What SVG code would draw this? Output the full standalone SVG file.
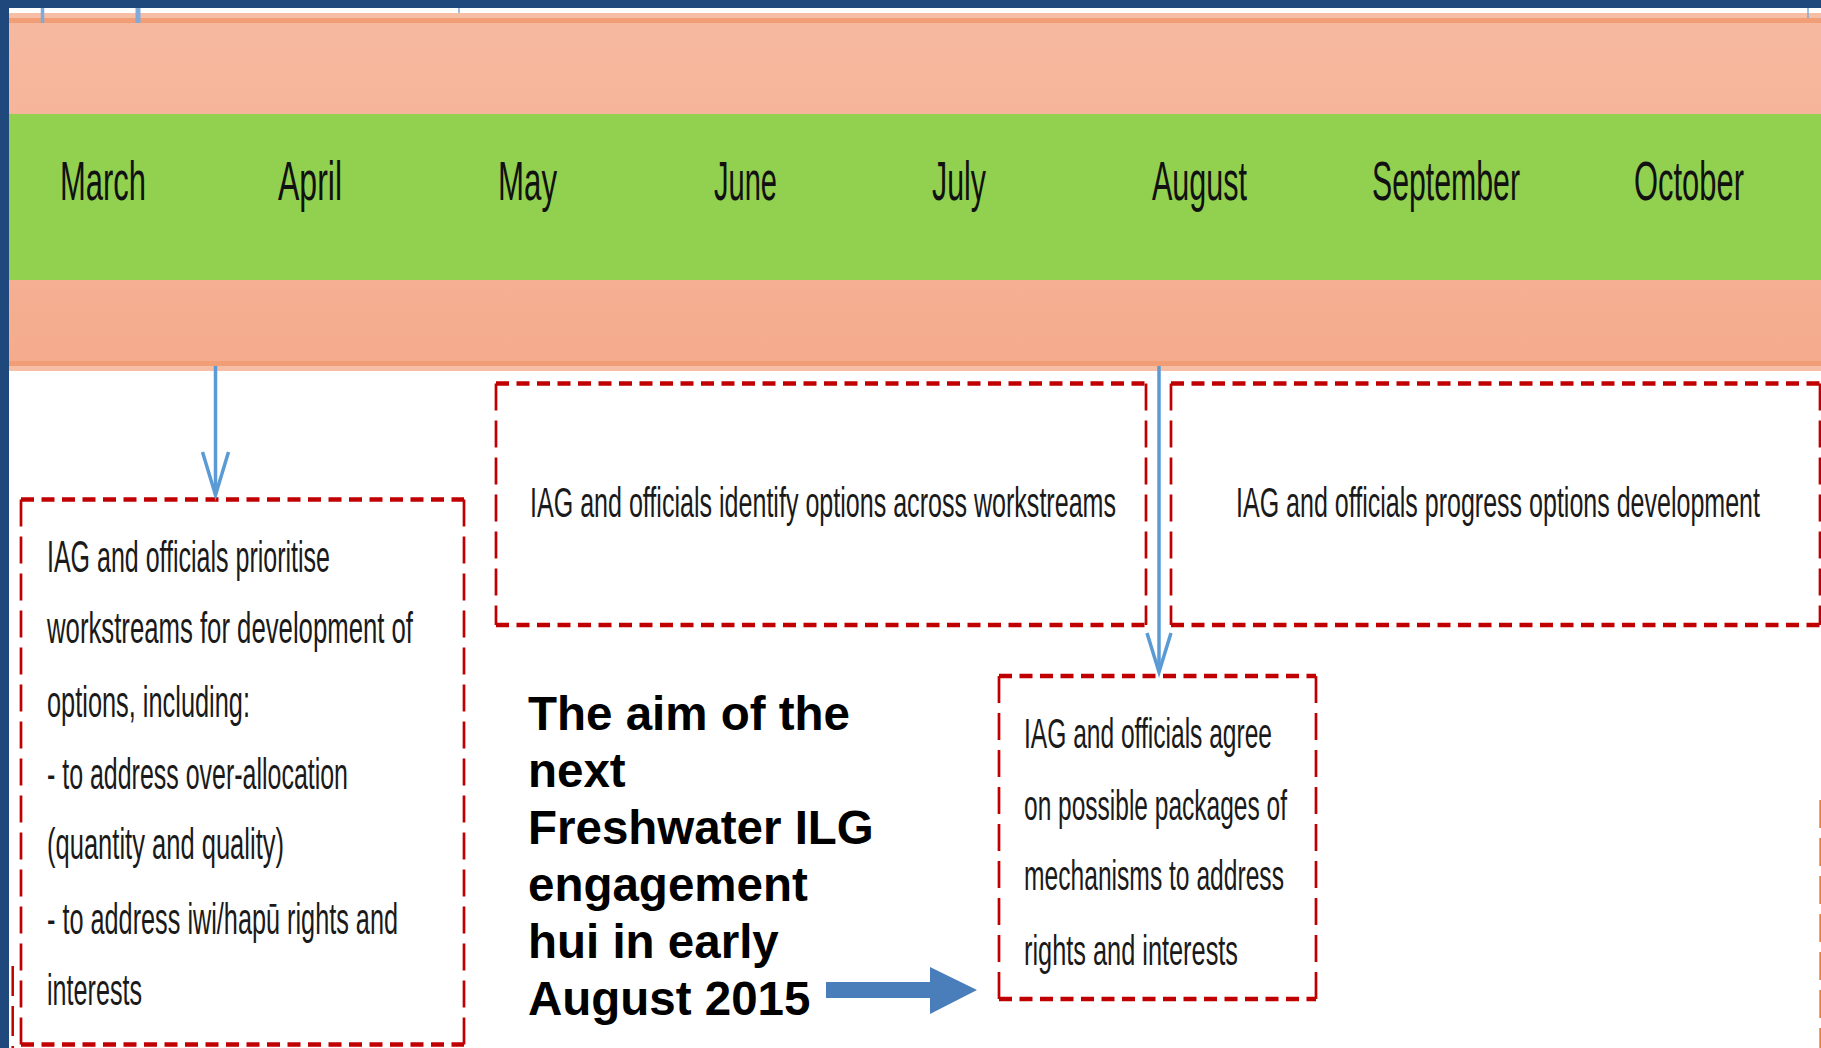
<svg xmlns="http://www.w3.org/2000/svg" width="1821" height="1048" viewBox="0 0 1821 1048">
  <defs>
    <linearGradient id="salmon" x1="0" y1="0" x2="0" y2="1">
      <stop offset="0" stop-color="#F6B9A0"/>
      <stop offset="1" stop-color="#F5AB8D"/>
    </linearGradient>
    <style>
      .month { font-family: "Liberation Sans", Arial, sans-serif; font-size: 56px; fill: #111111; }
      .bt { font-family: "Liberation Sans", Arial, sans-serif; font-size: 44px; fill: #1a1a1a; }
      .bt2 { font-family: "Liberation Sans", Arial, sans-serif; font-size: 42px; fill: #1a1a1a; }
      .aim { font-family: "Liberation Sans", Arial, sans-serif; font-size: 47.5px; font-weight: bold; fill: #000000; }
      .dh { fill: none; stroke: #C00000; stroke-width: 4.5; stroke-dasharray: 13 7.5; }
      .dv { fill: none; stroke: #C00000; stroke-width: 2.7; stroke-dasharray: 27 10; }
      .conn { fill: none; stroke: #5B9BD5; stroke-width: 3.5; }
      .tick { stroke: #7FA9DA; }
    </style>
  </defs>

  <rect x="0" y="0" width="1821" height="1048" fill="#FFFFFF"/>

  <g id="timeline-band">
    <rect x="9" y="13" width="1812" height="358" fill="url(#salmon)"/>
    <rect x="9" y="13" width="1812" height="5" fill="#F7BEA6"/>
    <rect x="9" y="18" width="1812" height="5" fill="#F19E76"/>
    <rect x="9" y="114" width="1812" height="166" fill="#92D050"/>
    <rect x="9" y="361" width="1812" height="5" fill="#F19E76"/>
    <rect x="9" y="366" width="1812" height="5" fill="#F7BEA6"/>
  </g>

  <g id="months">
    <text class="month" x="60" y="200" textLength="86" lengthAdjust="spacingAndGlyphs">March</text>
    <text class="month" x="278" y="200" textLength="64" lengthAdjust="spacingAndGlyphs">April</text>
    <text class="month" x="498" y="200" textLength="59" lengthAdjust="spacingAndGlyphs">May</text>
    <text class="month" x="714" y="200" textLength="63" lengthAdjust="spacingAndGlyphs">June</text>
    <text class="month" x="932" y="200" textLength="54" lengthAdjust="spacingAndGlyphs">July</text>
    <text class="month" x="1152" y="200" textLength="95" lengthAdjust="spacingAndGlyphs">August</text>
    <text class="month" x="1372" y="200" textLength="148" lengthAdjust="spacingAndGlyphs">September</text>
    <text class="month" x="1634" y="200" textLength="110" lengthAdjust="spacingAndGlyphs">October</text>
  </g>

  <g id="box-prioritise">
    <path class="dh" d="M21 499.5 H464 M21 1044.5 H464"/>
    <path class="dv" d="M21 499.5 V1044.5 M464 499.5 V1044.5"/>
    <text class="bt" x="47" y="572" textLength="283" lengthAdjust="spacingAndGlyphs">IAG and officials prioritise</text>
    <text class="bt" x="47" y="643" textLength="366" lengthAdjust="spacingAndGlyphs">workstreams for development of</text>
    <text class="bt" x="47" y="717" textLength="203" lengthAdjust="spacingAndGlyphs">options, including:</text>
    <text class="bt" x="47" y="789" textLength="301" lengthAdjust="spacingAndGlyphs">- to address over-allocation</text>
    <text class="bt" x="47" y="859" textLength="237" lengthAdjust="spacingAndGlyphs">(quantity and quality)</text>
    <text class="bt" x="47" y="934" textLength="351" lengthAdjust="spacingAndGlyphs">- to address iwi/hapū rights and</text>
    <text class="bt" x="47" y="1005" textLength="95" lengthAdjust="spacingAndGlyphs">interests</text>
  </g>

  <g id="box-identify">
    <path class="dh" d="M496 383.5 H1146 M496 625 H1146"/>
    <path class="dv" d="M496 383.5 V625 M1146 383.5 V625"/>
    <text class="bt2" x="530" y="517" textLength="586" lengthAdjust="spacingAndGlyphs">IAG and officials identify options across workstreams</text>
  </g>

  <g id="box-progress">
    <path class="dh" d="M1171 383.5 H1820 M1171 625 H1820"/>
    <path class="dv" d="M1171 383.5 V625 M1820 383.5 V625"/>
    <text class="bt2" x="1236" y="517" textLength="524" lengthAdjust="spacingAndGlyphs">IAG and officials progress options development</text>
  </g>

  <g id="box-agree">
    <path class="dh" d="M999 676 H1316 M999 999 H1316"/>
    <path class="dv" d="M999 676 V999 M1316 676 V999"/>
    <text class="bt2" x="1024" y="748" textLength="248" lengthAdjust="spacingAndGlyphs">IAG and officials agree</text>
    <text class="bt2" x="1024" y="820" textLength="263" lengthAdjust="spacingAndGlyphs">on possible packages of</text>
    <text class="bt2" x="1024" y="890" textLength="260" lengthAdjust="spacingAndGlyphs">mechanisms to address</text>
    <text class="bt2" x="1024" y="965" textLength="214" lengthAdjust="spacingAndGlyphs">rights and interests</text>
  </g>

  <g id="aim-note">
    <text class="aim" x="528" y="730">The aim of the</text>
    <text class="aim" x="528" y="787">next</text>
    <text class="aim" x="528" y="844">Freshwater ILG</text>
    <text class="aim" x="528" y="901">engagement</text>
    <text class="aim" x="528" y="958">hui in early</text>
    <text class="aim" x="528" y="1015">August 2015</text>
  </g>

  <g id="edge-fragments">
    <path d="M12.7 966 V1048" fill="none" stroke="#C00000" stroke-width="2.5" stroke-dasharray="30 10"/>
    <path d="M1820.3 800 V1048" fill="none" stroke="#ED7D31" stroke-width="2" stroke-dasharray="28 10"/>
  </g>

  <g id="connectors">
    <path class="conn" d="M215.5 366 V495"/>
    <path class="conn" d="M202.5 452 L215.5 495 L228.5 452"/>
    <path class="conn" d="M1159 366 V672"/>
    <path class="conn" d="M1147 633 L1159 672 L1171 633"/>
    <polygon points="826,982 930,982 930,967 977,990 930,1014 930,998 826,998" fill="#4A7EBB"/>
    <path class="tick" d="M42.5 8 V23" stroke-width="3.5"/>
    <path class="tick" d="M138 8 V23" stroke-width="5"/>
    <path class="tick" d="M459 8 V13" stroke-width="1.5"/>
    <path class="tick" d="M1808 8 V18" stroke-width="1.5"/>
  </g>

  <g id="frame">
    <rect x="0" y="0" width="1821" height="8" fill="#1F497D"/>
    <rect x="0" y="0" width="9" height="1048" fill="#1F497D"/>
  </g>
</svg>
